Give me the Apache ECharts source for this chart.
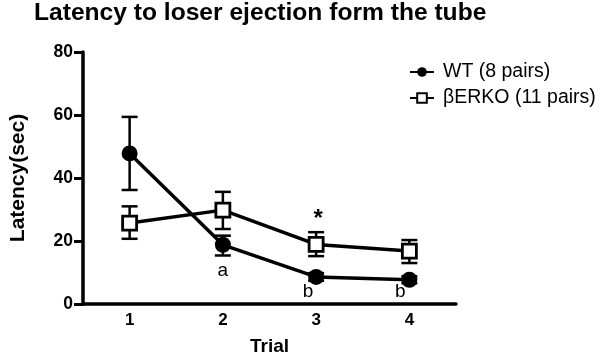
<!DOCTYPE html>
<html>
<head>
<meta charset="utf-8">
<script src="https://cdn.jsdelivr.net/npm/echarts@6/dist/echarts.min.js"></script>
<style>
html,body{margin:0;padding:0;background:#fff;}
#c{width:600px;height:361px;}
</style>
</head>
<body>
<div id="c"></div>
<script>
// ---- data ----
var trials = ['1', '2', '3', '4'];
var wtMean = [47.8, 18.8, 8.6, 7.7];
var wtLow  = [36.2, 15.4, 7.4, 6.6];
var wtHigh = [59.4, 21.7, 9.8, 8.8];
var koMean = [25.7, 29.8, 18.9, 16.8];
var koLow  = [20.7, 23.8, 15.2, 13.0];
var koHigh = [31.0, 35.6, 22.8, 20.3];
var yTicks = [0, 20, 40, 60, 80];
var annoTrial = [1, 2, 3, 2];
var annoValue = [10.7, 3.9, 3.9, 27];
var annoText  = ['a', 'b', 'b', '*'];
var wtName = 'WT (8 pairs)';
var koName = '\u03B2ERKO (11 pairs)';

// ---- rendering ----
var FONT = '"Liberation Sans", Arial, Helvetica, sans-serif';
var annoDx = [0, -8, -9, 2];

function errData(lo, hi) {
  return lo.map(function (v, i) { return [i, v, hi[i]]; });
}
function errRender(params, api) {
  var lo = api.coord([api.value(0), api.value(1)]);
  var hi = api.coord([api.value(0), api.value(2)]);
  var hw = 8;
  var st = { stroke: '#000', lineWidth: 2.5 };
  return {
    type: 'group',
    children: [
      { type: 'line', shape: { x1: lo[0], y1: lo[1], x2: hi[0], y2: hi[1] }, style: st },
      { type: 'line', shape: { x1: lo[0] - hw, y1: lo[1], x2: lo[0] + hw, y2: lo[1] }, style: st },
      { type: 'line', shape: { x1: hi[0] - hw, y1: hi[1], x2: hi[0] + hw, y2: hi[1] }, style: st }
    ]
  };
}
var annoData = annoTrial.map(function (t, i) { return [t, annoValue[i], i]; });
function annoRender(params, api) {
  var i = api.value(2);
  var p = api.coord([api.value(0), api.value(1)]);
  var isStar = annoText[i] === '*';
  return {
    type: 'text',
    x: p[0] + annoDx[i],
    y: p[1],
    style: {
      text: annoText[i],
      font: (isStar ? 'bold 24px ' : '19px ') + FONT,
      fill: '#000',
      textAlign: 'center',
      textVerticalAlign: 'middle'
    }
  };
}

var chart = echarts.init(document.getElementById('c'), null, { renderer: 'canvas' });
chart.setOption({
  animation: false,
  backgroundColor: '#fff',
  title: {
    text: 'Latency to loser ejection form the tube',
    left: 34, top: 1, padding: 0,
    textStyle: { fontFamily: FONT, fontWeight: 'bold', fontSize: 24.6, color: '#000' }
  },
  legend: {
    orient: 'vertical',
    left: 404, top: 57,
    itemWidth: 24, itemHeight: 12, itemGap: 6,
    data: [wtName, koName],
    textStyle: { fontFamily: FONT, fontSize: 19.5, color: '#000', padding: [0, 0, 0, 4] }
  },
  grid: { left: 72, top: 52, width: 384, height: 253.5 },
  xAxis: {
    type: 'category',
    data: trials,
    boundaryGap: true,
    name: 'Trial',
    nameLocation: 'middle',
    nameGap: 33,
    nameTextStyle: { fontFamily: FONT, fontWeight: 'bold', fontSize: 19, color: '#000' },
    axisLine: { lineStyle: { color: '#000', width: 3.5 } },
    axisTick: { show: false },
    axisLabel: { fontFamily: FONT, fontWeight: 'bold', fontSize: 17, color: '#000', margin: 8 }
  },
  yAxis: {
    type: 'value',
    min: yTicks[0], max: yTicks[yTicks.length - 1], interval: yTicks[1] - yTicks[0],
    name: 'Latency(sec)',
    nameLocation: 'middle',
    nameGap: 54,
    nameTextStyle: { fontFamily: FONT, fontWeight: 'bold', fontSize: 21, color: '#000' },
    axisLine: { show: true, lineStyle: { color: '#000', width: 3.5 } },
    axisTick: { show: true, length: 9, lineStyle: { color: '#000', width: 3 } },
    axisLabel: { fontFamily: FONT, fontWeight: 'bold', fontSize: 17.5, color: '#000', margin: 10 },
    splitLine: { show: false }
  },
  series: [
    { type: 'custom', name: 'wtErr', renderItem: errRender, data: errData(wtLow, wtHigh), z: 1, silent: true },
    { type: 'custom', name: 'koErr', renderItem: errRender, data: errData(koLow, koHigh), z: 1, silent: true },
    {
      type: 'line', name: wtName, data: wtMean, z: 3,
      symbol: 'circle', symbolSize: 16,
      lineStyle: { color: '#000', width: 3.5 },
      itemStyle: { color: '#000', borderColor: '#000', borderWidth: 0 }
    },
    {
      type: 'line', name: koName, data: koMean, z: 4,
      symbol: 'rect', symbolSize: 14,
      lineStyle: { color: '#000', width: 3.5 },
      itemStyle: { color: '#fff', borderColor: '#000', borderWidth: 2.8 }
    },
    { type: 'custom', name: 'anno', renderItem: annoRender, data: annoData, z: 5, silent: true }
  ]
});
</script>
</body>
</html>
